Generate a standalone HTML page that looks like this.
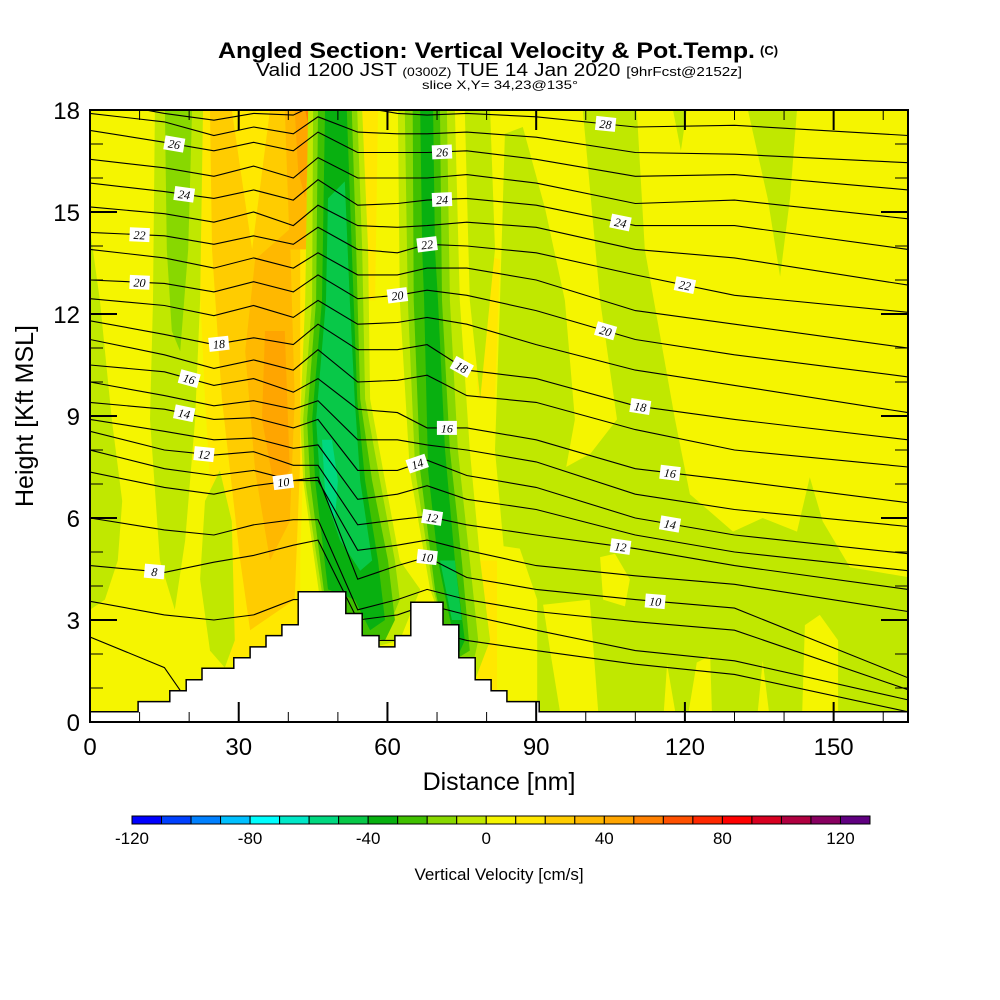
<!DOCTYPE html>
<html><head><meta charset="utf-8"><style>
html,body{margin:0;padding:0;background:#fff;}
svg{display:block;font-family:"Liberation Sans",Arial,sans-serif;}
</style></head><body>
<svg id="chart" width="1000" height="1000" viewBox="0 0 1000 1000" xmlns="http://www.w3.org/2000/svg">
<defs><clipPath id="plotclip"><rect x="90" y="110" width="818" height="612"/></clipPath></defs>
<rect x="0" y="0" width="1000" height="1000" fill="#fff"/>
<g>
<text x="218" y="58" font-size="22" font-weight="bold" textLength="537" lengthAdjust="spacingAndGlyphs">Angled Section: Vertical Velocity &amp; Pot.Temp.</text>
<text x="760" y="55" font-size="13" font-weight="bold">(C)</text>
<text x="256" y="76" font-size="18" textLength="486" lengthAdjust="spacingAndGlyphs">Valid 1200 JST <tspan font-size="12">(0300Z)</tspan> TUE 14 Jan 2020 <tspan font-size="13">[9hrFcst@2152z]</tspan></text>
<text x="422" y="89" font-size="12" textLength="156" lengthAdjust="spacingAndGlyphs">slice X,Y= 34,23@135°</text>
</g>
<rect x="90" y="110" width="818" height="612" fill="#f5f500"/>
<g id="shading" clip-path="url(#plotclip)"></g>
<g id="contours" clip-path="url(#plotclip)"></g>
<g id="terrain"></g>
<g id="clabels" clip-path="url(#plotclip)"></g>
<g id="axes"></g>
<text x="499" y="790" text-anchor="middle" font-size="25">Distance [nm]</text>
<text transform="translate(33,416) rotate(-90)" text-anchor="middle" font-size="25">Height [Kft MSL]</text>
<g id="colorbar"></g>
<text x="499" y="880" text-anchor="middle" font-size="17">Vertical Velocity [cm/s]</text>
</svg>
<script>
// ---- data ----
const nodesNm = [0,15,25,33,41,46,54,62,68,76,90,110,130,165];
const thetaLevels = [28,27,26,25,24,23,22,21,20,19,18,17,16,15,14,13,12,11,10,9,8,7,6];
const thetaHeights = [
[18.3,17.9,17.7,17.9,17.85,18.2,18.1,17.9,17.85,17.9,17.8,17.5,17.55,17.25],
[17.9,17.65,17.25,17.5,17.3,17.8,17.35,17.3,17.3,17.35,17.2,16.75,16.7,16.45],
[17.4,17.05,16.8,17.05,16.8,17.35,16.75,16.75,16.75,16.8,16.55,16.05,16.1,15.65],
[16.55,16.3,16.05,16.35,16.0,16.6,16.0,16.0,16.0,16.1,15.85,15.25,15.35,14.8],
[15.85,15.6,15.4,15.65,15.35,15.95,15.2,15.25,15.35,15.4,15.2,14.6,14.6,13.9],
[15.15,14.95,14.7,15.0,14.6,15.2,14.6,14.55,14.6,14.7,14.55,13.9,13.65,12.85],
[14.4,14.3,14.05,14.3,14.05,14.55,13.9,13.8,14.05,14.0,13.8,13.15,12.55,12.05],
[13.9,13.65,13.35,13.65,13.35,13.8,13.15,13.15,13.35,13.35,13.0,12.1,11.7,11.0],
[13.0,12.9,12.65,12.95,12.65,13.15,12.45,12.55,12.7,12.55,12.1,11.25,10.8,10.15],
[12.45,12.25,11.95,12.25,11.9,12.4,11.7,11.75,11.9,11.7,11.1,10.35,9.9,9.1],
[11.8,11.4,11.1,11.3,11.1,11.7,10.95,10.95,11.1,10.35,10.1,9.3,8.9,8.3],
[11.25,10.8,10.4,10.65,10.35,10.95,10.0,10.05,10.2,9.6,9.4,8.6,8.0,7.5],
[10.5,10.3,9.9,10.1,9.7,10.1,9.2,9.1,8.65,8.65,8.3,7.45,7.1,6.45],
[10.0,9.6,9.3,9.45,9.2,9.45,8.3,8.3,8.15,8.0,7.65,6.7,6.25,5.75],
[9.4,9.2,8.9,8.95,8.65,8.9,7.4,7.4,7.7,7.25,6.9,6.0,5.5,4.95],
[8.9,8.55,8.3,8.35,8.05,8.15,6.55,6.7,6.95,6.55,6.25,5.5,5.0,4.45],
[8.55,8.0,7.85,7.95,7.55,7.55,5.8,5.95,6.05,5.8,5.5,5.1,4.6,3.9],
[8.0,7.45,7.25,7.4,7.1,7.1,5.05,5.2,5.35,5.05,4.6,4.3,4.05,3.25],
[7.35,6.9,6.7,6.95,7.1,7.2,4.2,4.6,4.85,4.25,3.9,3.6,3.35,1.3],
[6.0,5.65,5.5,5.8,5.95,5.95,3.3,3.6,3.9,3.6,3.25,2.95,2.7,0.95],
[4.6,4.4,4.7,4.9,5.2,5.35,3.0,3.15,3.45,3.15,2.7,2.1,1.8,0.65],
[3.55,3.15,3.0,3.15,3.6,3.6,2.4,2.4,2.7,2.4,2.1,1.7,1.4,0.3],
[2.5,1.6,-0.5,-1,-1,-1,-1,-1,-1,-1,-1,-1,-1,-1]
];
const labelTheta = [26,26,28,24,24,24,22,22,22,20,20,20,18,18,18,16,16,16,14,14,14,12,12,12,10,10,10,8];
const labelNm    = [17,71,104,19,71,107,10,68,120,10,62,104,26,75,111,20,72,117,19,66,117,23,69,107,39,68,114,13];
const terrainEdgesNm = [0,9.7,16.1,19.4,22.6,29.0,32.3,35.5,38.7,42.0,51.6,54.9,58.3,61.5,64.7,71.2,74.4,77.7,80.9,84.1,90.6,165];
const terrainKft = [0.3,0.6,0.92,1.24,1.58,1.89,2.21,2.54,2.86,3.83,3.19,2.54,2.21,2.54,3.52,2.86,1.89,1.24,0.92,0.6,0.3];
const cbValues = [-120,-110,-100,-90,-80,-70,-60,-50,-40,-30,-20,-10,0,10,20,30,40,50,60,70,80,90,100,110,120];
const cbColors = ["#0000ff","#0040ff","#0080ff","#00c0ff","#00ffff","#00e8c8","#00d880","#08c848","#08b010","#40c000","#88d800","#c0e800","#f5f500","#ffe800","#ffcc00","#ffb800","#ffa500","#ff8000","#ff5000","#ff2800","#ff0000","#d80020","#b00040","#880060","#600080"];
const cbTicks = [-120,-80,-40,0,40,80,120];
const xTicks = [0,30,60,90,120,150];
const yTicks = [0,3,6,9,12,15,18];
const shadeClass = [10,10,10,10,20,10,30,30,40,40,50,
 -10,-10,-10,-10,-10,-10,-10,-10,-10,-10,
 0,0,0,0,0,0,0,
 -20,-20,-20,-30,-30,-40,-40,-50,-50,-60];
const shadePolys = [
[[21.8,18],[44.8,18],[45.6,13.9],[43.4,9.5],[42.4,4.75],[42.4,2.4],[28.2,1.8],[25.2,4.75],[23.2,9.5],[21.8,13.9]],
[[54.5,18],[58.1,18],[57.5,12.4],[55.5,12.4]],
[[76.6,13.9],[82.7,13.6],[81.7,9.5],[78.3,9.5]],
[[77.7,4.75],[88.7,4.75],[89.8,0.65],[78.3,0.95]],
[[24.2,18],[42.4,18],[42.4,12.4],[42.4,7.7],[41.3,3.6],[32.3,2.7],[30.3,4.75],[26.6,9.5],[24.6,13.9]],
[[28.6,18],[36.3,18],[32.7,13.9]],
[[33.3,13.6],[40.3,14.5],[41.3,9.5],[40.3,5.9],[36.3,4.75],[33.3,7.4],[31.3,10.9]],
[[39.3,18],[44.8,18],[44.0,13.9],[40.3,13.9]],
[[35.3,11.5],[39.3,11.5],[40.3,7.4],[37.3,6.8],[34.7,8.9]],
[[41.3,18],[44.8,18],[43.4,15.4],[42.0,16.2]],
[[43.4,18],[45.0,18],[44.4,17.3]],
[[0,14.5],[2,12.4],[4.4,8.9],[6.5,6.5],[5.6,4.75],[3,3.6],[0,3.3]],
[[13.1,18],[22.8,18],[22.2,12.4],[21.2,8.9],[19.2,5.35],[17.1,3.3],[14.1,4.75],[12.1,8.9],[12.7,12.4]],
[[23.2,6.5],[26.2,7.4],[28.6,5.9],[29.2,2.4],[27.2,1.6],[24.2,2.1],[22.2,4.2]],
[[44.0,18],[54.9,18],[56.1,13.9],[56.5,9.5],[59.5,7.1],[62.5,4.75],[66.6,3.9],[62.5,2.4],[58.5,2.25],[54.9,2.55],[51.6,3.2],[46.4,3.6],[43.0,7.1],[42.4,8.9],[43.4,12.4]],
[[62.1,18],[73.6,18],[74.6,12.4],[76.6,8.0],[78.7,4.75],[80.7,2.4],[77.7,1.25],[74.4,1.9],[71.2,2.85],[68.6,3.9],[64.5,7.4],[62.5,12.4]],
[[75.6,18],[80.7,18],[81.7,13.9],[78.7,9.5],[76.6,12.4]],
[[99.4,18],[110.3,18],[111.9,13.9],[118.0,8.9],[121.0,6.7],[129.7,5.6],[135.7,6.0],[142.6,5.6],[145.2,7.2],[147.8,5.9],[153.3,4.55],[165.4,4.25],[165.4,0],[82.7,0],[82.7,4.75],[94.8,7.4],[101.0,7.9],[106.3,8.9],[102.9,12.4]],
[[83.7,17.3],[87.3,17.5],[91.8,15.1],[95.8,12.4],[97.8,8.9],[94.8,6.5],[83.7,4.75],[81.7,8.0],[82.7,12.4]],
[[132.7,18],[142.6,18],[141.2,15.4],[139.2,13.1],[136.7,15.4]],
[[117.6,18],[120.4,18],[119.2,16.8]],
[[102.9,4.85],[105.9,4.95],[108.9,4.2],[107.9,3.4],[103.5,3.6]],
[[115.6,0],[116.4,1.7],[118.4,0]],
[[120.4,0],[122.4,1.75],[125.1,1.95],[125.5,0]],
[[134.5,0],[135.7,1.8],[137.2,0]],
[[143.6,0],[144.2,2.85],[147.2,3.15],[150.9,2.4],[150.9,0]],
[[82.1,5.2],[86.7,5.1],[90.2,3.6],[90.2,0],[82.1,0]],
[[91.4,3.45],[100.8,3.6],[102.5,0.3],[94.8,0.3],[92.8,2.1]],
[[15.1,18],[20.6,18],[19.8,13.9],[18.2,10.9],[16.5,11.5],[15.5,13.9]],
[[45.0,18],[53.9,18],[54.9,13.9],[55.5,9.5],[58.5,7.1],[61.5,4.75],[62.5,3.6],[59.1,2.4],[54.9,2.55],[51.6,3.2],[47.0,3.6],[43.4,7.1],[43.0,8.9],[44.8,12.4]],
[[63.5,18],[72.0,18],[72.6,12.4],[74.2,8.0],[76.6,4.75],[78.3,2.4],[76.6,1.25],[74.4,1.9],[71.2,2.85],[69.2,3.9],[65.6,7.4],[64.1,12.4]],
[[46.0,18],[52.8,18],[53.7,13.9],[54.5,9.5],[56.9,7.1],[60.1,4.75],[61.5,3.0],[59.5,2.4],[54.9,2.55],[51.6,3.2],[47.4,3.6],[44.4,7.1],[43.8,8.9],[45.6,12.4]],
[[65.1,18],[70.6,18],[71.0,12.4],[72.6,8.0],[75.0,4.75],[76.6,2.1],[74.4,1.9],[71.2,2.85],[69.6,3.9],[66.6,7.4],[65.3,12.4]],
[[47.4,18],[51.8,18],[52.8,13.9],[53.9,9.5],[55.5,7.1],[58.1,4.75],[59.5,3.0],[56.5,2.7],[53.4,3.6],[48.0,3.9],[45.4,7.1],[44.8,8.9],[46.8,12.4]],
[[66.6,18],[69.2,18],[69.6,13.9],[70.2,12.4],[71.6,8.0],[73.6,4.75],[75.6,2.4],[74.2,1.95],[72.2,3.3],[70.2,4.75],[68.2,7.4],[67.4,12.4],[67.0,13.9]],
[[48.0,15.4],[51.4,15.9],[52.4,12.4],[53.4,9.5],[54.5,7.1],[56.9,4.75],[54.5,4.45],[50.4,5.35],[46.4,7.1],[45.6,8.9],[47.6,12.4]],
[[70.6,4.75],[73.6,4.75],[75.0,3.0],[73.0,3.0]],
[[46.8,8.3],[48.8,8.3],[50.0,7.1],[49.4,5.9],[47.4,6.8]]
];

// ---- scales ----
const X0=90,X1=908,Y0=722,Y1=110;
function sx(nm){return X0+nm*(X1-X0)/165;}
function sy(k){return Y0-k*(Y0-Y1)/18;}
const NS="http://www.w3.org/2000/svg";
function mk(tag,attrs,parent){const e=document.createElementNS(NS,tag);for(const k in attrs)e.setAttribute(k,attrs[k]);parent.appendChild(e);return e;}
function colorFor(v){const i=cbValues.indexOf(v);return cbColors[i];}

const gS=document.getElementById('shading');
shadePolys.forEach((poly,i)=>{
  const p=mk('polygon',{points:poly.map(q=>sx(q[0]).toFixed(1)+','+sy(q[1]).toFixed(1)).join(' '),fill:colorFor(shadeClass[i])},gS);
  
  
});

const gC=document.getElementById('contours');
thetaLevels.forEach((t,i)=>{
  const pts=nodesNm.map((n,j)=>sx(n).toFixed(1)+','+sy(thetaHeights[i][j]).toFixed(1)).join(' ');
  const l=mk('polyline',{points:pts,fill:'none',stroke:'#000','stroke-width':1.1},gC);
  
  
});

const gT=document.getElementById('terrain');
let tp=[[sx(0),sy(0)]];
terrainKft.forEach((h,i)=>{tp.push([sx(terrainEdgesNm[i]),sy(h)]);tp.push([sx(terrainEdgesNm[i+1]),sy(h)]);});
tp.push([sx(165),sy(0)]);
const terr=mk('polygon',{points:tp.map(q=>q[0].toFixed(1)+','+q[1].toFixed(1)).join(' '),fill:'#fff',stroke:'#000','stroke-width':1.5},gT);



function heightAt(i,nm){for(let j=0;j<nodesNm.length-1;j++){if(nm>=nodesNm[j]&&nm<=nodesNm[j+1]){const f=(nm-nodesNm[j])/(nodesNm[j+1]-nodesNm[j]);return thetaHeights[i][j]+f*(thetaHeights[i][j+1]-thetaHeights[i][j]);}}return thetaHeights[i][nodesNm.length-1];}
const gL=document.getElementById('clabels');
labelTheta.forEach((t,i)=>{
  const li=thetaLevels.indexOf(t);const nm=labelNm[i];
  const x=sx(nm),y=sy(heightAt(li,nm));
  const ya=sy(heightAt(li,nm-1.5)),yb=sy(heightAt(li,nm+1.5));
  const ang=Math.atan2(yb-ya,sx(nm+1.5)-sx(nm-1.5))*180/Math.PI;
  const g=mk('g',{transform:`translate(${x.toFixed(1)},${y.toFixed(1)}) rotate(${ang.toFixed(1)})`},gL);
  
  
  mk('rect',{x:-10,y:-7,width:20,height:14,fill:'#fff'},g);
  const tx=mk('text',{x:0,y:4.5,'text-anchor':'middle','font-size':12,'font-style':'italic','font-family':'"Liberation Serif",serif'},g);
  tx.textContent=t;
});

const gA=document.getElementById('axes');
mk('rect',{x:X0,y:Y1,width:X1-X0,height:Y0-Y1,fill:'none',stroke:'#000','stroke-width':2},gA);
for(let k=0;k<=18;k++){
  const L=(k%3===0)?27:13;const y=sy(k);
  mk('line',{x1:X0,y1:y,x2:X0+L,y2:y,stroke:'#000','stroke-width':(k%3===0)?2:1},gA);
  mk('line',{x1:X1,y1:y,x2:X1-L,y2:y,stroke:'#000','stroke-width':(k%3===0)?2:1},gA);
}
for(let n=0;n<=160;n+=10){
  const L=(n%30===0)?20:10;const x=sx(n);
  mk('line',{x1:x,y1:Y1,x2:x,y2:Y1+L,stroke:'#000','stroke-width':(n%30===0)?2:1},gA);
  mk('line',{x1:x,y1:Y0,x2:x,y2:Y0-L,stroke:'#000','stroke-width':(n%30===0)?2:1},gA);
}
yTicks.forEach(v=>{
  const t=mk('text',{x:80,y:sy(v)+9,'text-anchor':'end','font-size':24},gA);
  
  
  t.textContent=v;
});
xTicks.forEach(v=>{
  const t=mk('text',{x:sx(v),y:755,'text-anchor':'middle','font-size':24},gA);
  
  
  t.textContent=v;
});

const gB=document.getElementById('colorbar');
const cbL=132,cbR=870,cbW=(cbR-cbL)/cbValues.length;
cbValues.forEach((v,i)=>{
  const r=mk('rect',{x:cbL+i*cbW,y:816,width:cbW,height:8,fill:cbColors[i],stroke:'#000','stroke-width':1},gB);
  
  
});
cbTicks.forEach(v=>{
  const i=cbValues.indexOf(v);
  const t=mk('text',{x:cbL+i*cbW,y:844,'text-anchor':'middle','font-size':17},gB);
  
  
  t.textContent=v;
});
</script>
</body></html>
